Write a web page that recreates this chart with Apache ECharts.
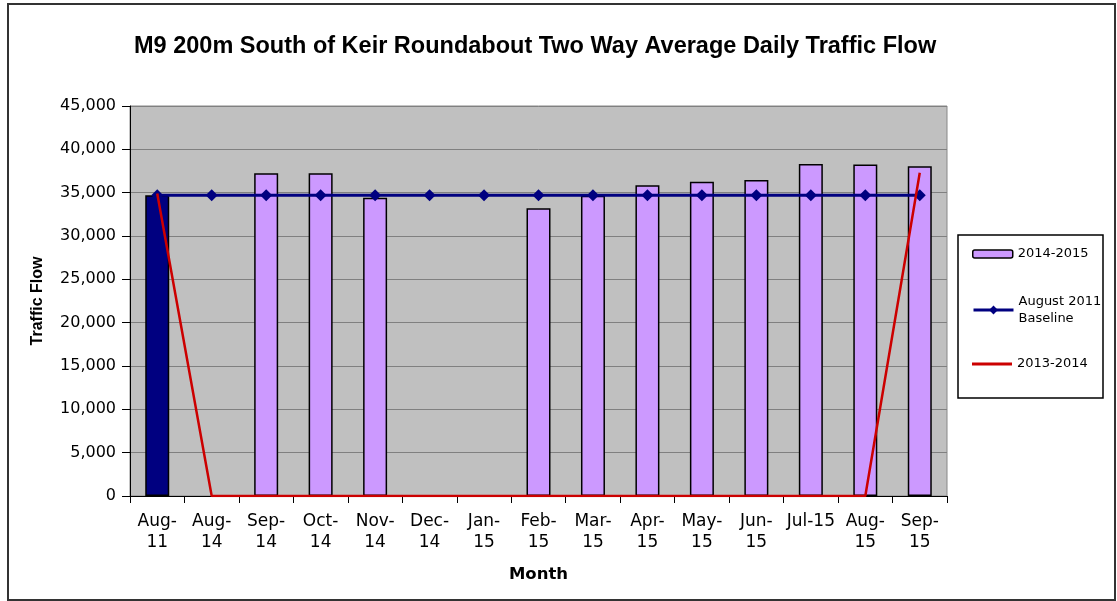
<!DOCTYPE html>
<html>
<head>
<meta charset="utf-8">
<script src="https://cdn.jsdelivr.net/npm/echarts@6/dist/echarts.min.js"></script>
<style>
  html, body { margin: 0; padding: 0; background: #fff; }
  #chart { width: 1117px; height: 601px; }
</style>
</head>
<body>
<div id="chart"></div>
<script>
// month labels (wrapped the way the original axis shows them)
const months = ['Aug-\n11', 'Aug-\n14', 'Sep-\n14', 'Oct-\n14', 'Nov-\n14', 'Dec-\n14', 'Jan-\n15',
  'Feb-\n15', 'Mar-\n15', 'Apr-\n15', 'May-\n15', 'Jun-\n15', 'Jul-15', 'Aug-\n15', 'Sep-\n15'];
// 2014-2015 flows (first one is the Aug-11 baseline month)
const flow1415 = [34700, null, 37250, 37250, 34400, null, null, 33200, 34650, 35850, 36250, 36450, 38300, 38250, 38050];
const baseline2011 = [34700, 34700, 34700, 34700, 34700, 34700, 34700, 34700, 34700, 34700, 34700, 34700, 34700, 34700, 34700];
const flow1314 = [34900, 0, 0, 0, 0, 0, 0, 0, 0, 0, 0, 0, 0, 0, 37300];
const yTicks = { min: 0, max: 45000, step: 5000 };

const chart = echarts.init(document.getElementById('chart'));

const fmt = (v) => String(v).replace(/\B(?=(\d{3})+(?!\d))/g, ',');

chart.setOption({
  animation: false,
  backgroundColor: '#fff',
  title: {
    text: 'M9 200m South of Keir Roundabout Two Way Average Daily Traffic Flow',
    left: 134,
    top: 35,
    padding: 0,
    textStyle: {
      fontFamily: 'Liberation Sans',
      fontWeight: 'bold',
      fontSize: 23.5,
      color: '#000'
    }
  },
  graphic: [
    {
      type: 'rect',
      shape: { x: 8, y: 4, width: 1107, height: 596 },
      style: { fill: 'none', stroke: '#333', lineWidth: 2 },
      silent: true
    },
    {
      type: 'rect',
      shape: { x: 958, y: 235, width: 145, height: 163 },
      style: { fill: '#fff', stroke: '#000', lineWidth: 1.5 },
      silent: true
    }
  ],
  legend: [
    {
      data: ['2014-2015'],
      left: 972,
      top: 246,
      padding: 0,
      itemWidth: 40,
      itemHeight: 8,
      itemStyle: { color: '#cc99ff', borderColor: '#000', borderWidth: 1.5 },
      textStyle: { fontFamily: 'DejaVu Sans', fontSize: 13, lineHeight: 16, color: '#000' }
    },
    {
      data: ['August 2011 Baseline'],
      left: 972,
      top: 284.5,
      padding: 0,
      itemWidth: 40,
      itemHeight: 11,
      lineStyle: { width: 3 },
      formatter: () => 'August 2011\nBaseline',
      textStyle: { fontFamily: 'DejaVu Sans', fontSize: 13, lineHeight: 17, padding: [17, 0, 0, 0], color: '#000' }
    },
    {
      data: ['2013-2014'],
      left: 972,
      top: 356,
      padding: 0,
      itemWidth: 40,
      itemHeight: 3,
      icon: 'rect',
      itemStyle: { color: '#cc0000', borderWidth: 0 },
      textStyle: { fontFamily: 'DejaVu Sans', fontSize: 13, lineHeight: 16, color: '#000' }
    }
  ],
  grid: {
    left: 130,
    top: 106,
    width: 817,
    height: 390,
    show: true,
    backgroundColor: '#c0c0c0',
    borderColor: '#888',
    borderWidth: 1
  },
  xAxis: {
    type: 'category',
    data: months,
    boundaryGap: true,
    name: 'Month',
    nameLocation: 'middle',
    nameGap: 70,
    nameTextStyle: { fontFamily: 'DejaVu Sans', fontWeight: 'bold', fontSize: 16.5, color: '#000' },
    axisLine: { lineStyle: { color: '#000', width: 1 } },
    axisTick: { show: true, interval: 0, length: 7, lineStyle: { color: '#000' } },
    axisLabel: {
      interval: 0,
      margin: 15,
      fontFamily: 'DejaVu Sans',
      fontSize: 17,
      lineHeight: 21,
      color: '#000'
    },
    splitLine: { show: false }
  },
  yAxis: {
    type: 'value',
    min: yTicks.min,
    max: yTicks.max,
    interval: yTicks.step,
    name: 'Traffic Flow',
    nameLocation: 'middle',
    nameRotate: 90,
    nameGap: 84,
    nameTextStyle: { fontFamily: 'Liberation Sans', fontWeight: 'bold', fontSize: 16, color: '#000' },
    axisLine: { show: true, lineStyle: { color: '#000', width: 1 } },
    axisTick: { show: true, length: 8, lineStyle: { color: '#000' } },
    axisLabel: {
      margin: 14,
      fontFamily: 'DejaVu Sans',
      fontSize: 16,
      color: '#000',
      formatter: fmt
    },
    splitLine: { show: true, lineStyle: { color: '#808080', width: 1 } }
  },
  series: [
    {
      name: '2014-2015',
      type: 'bar',
      barWidth: 24,
      data: flow1415.map((v, i) => i === 0
        ? { value: v, itemStyle: { color: '#000080' } }
        : v),
      itemStyle: { color: '#cc99ff', borderColor: '#000', borderWidth: 1.5 },
      z: 2
    },
    {
      name: 'August 2011 Baseline',
      type: 'line',
      data: baseline2011,
      symbol: 'diamond',
      symbolSize: 12,
      itemStyle: { color: '#000080' },
      lineStyle: { color: '#000080', width: 3 },
      z: 3
    },
    {
      name: '2013-2014',
      type: 'line',
      data: flow1314,
      showSymbol: false,
      symbol: 'none',
      itemStyle: { color: '#cc0000' },
      lineStyle: { color: '#cc0000', width: 2.5 },
      z: 4
    }
  ]
});
</script>
</body>
</html>
